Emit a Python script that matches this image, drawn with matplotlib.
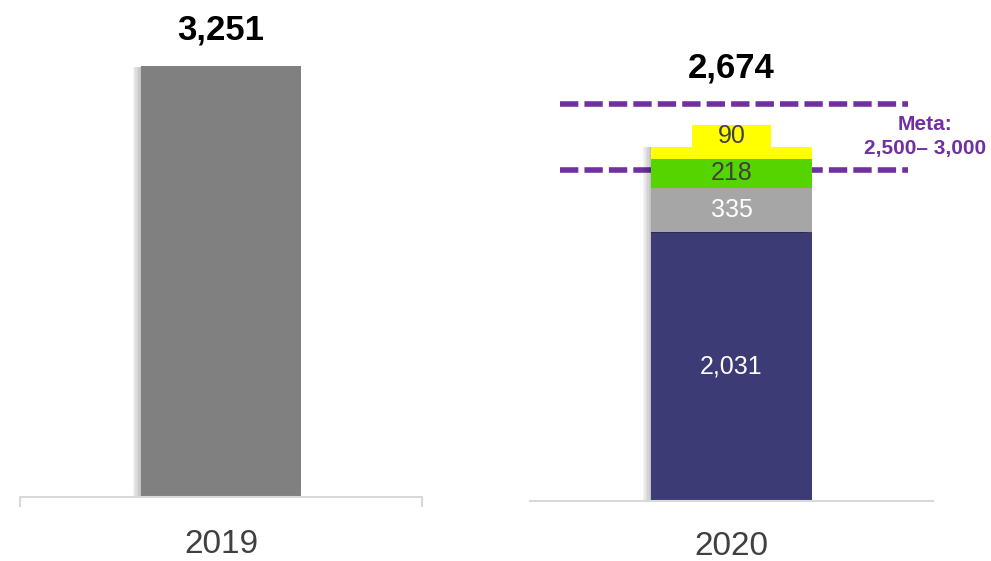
import matplotlib.pyplot as plt
import matplotlib.patheffects as pe
from matplotlib.patches import Rectangle

years = ["2019", "2020"]
total_2019 = 3251
seg_values = [2031, 335, 218, 90]
seg_colors = ["#3c3b75", "#a6a6a6", "#55d400", "#ffff00"]
seg_text_colors = ["white", "white", "#404040", "#404040"]
meta_low, meta_high = 2500, 3000
meta_label = "Meta:\n2,500\u2013 3,000"

W, H = 991, 561
SCALE = 0.1325  # px per unit, same for both panels
PURPLE = "#7030a0"
AXIS = "#d9d9d9"
ARIAL = ["Liberation Sans", "DejaVu Sans"]

fig = plt.figure(figsize=(W / 100, H / 100), dpi=100)


def make_axes(x0, x1, base):
    ax = fig.add_axes([x0 / W, (H - base) / H, (x1 - x0) / W, base / H])
    ax.set_xlim(-0.5, 0.5)
    ax.set_ylim(0, base / SCALE)
    for s in ["top", "left", "right"]:
        ax.spines[s].set_visible(False)
    ax.spines["bottom"].set_color(AXIS)
    ax.spines["bottom"].set_linewidth(1.5)
    ax.set_yticks([])
    ax.patch.set_alpha(0)
    return ax


# soft-ish drop shadow to the left, built from a few faint layers
shadow = [pe.SimplePatchShadow(offset=(-k, -0.5), shadow_rgbFace="#000000", alpha=0.045)
          for k in (1, 2, 3, 4, 5, 6)] + [pe.Normal()]

# 2019 panel
ax1 = make_axes(20, 422, 497)
ax1.set_xticks([-0.5, 0.5])
ax1.set_xticklabels(["", ""])
ax1.tick_params(axis="x", length=7, width=1.5, color=AXIS)
b = ax1.bar(0, total_2019, width=0.398, color="#808080")
for p in b:
    p.set_path_effects(shadow)
ax1.annotate(f"{total_2019:,}", xy=(0, total_2019), xytext=(0, 26), textcoords="offset points",
             ha="center", va="center", fontsize=25, fontweight="bold", family=ARIAL, color="black")
ax1.annotate(years[0], xy=(0, 0), xycoords=("data", "axes fraction"), xytext=(0, -34),
             textcoords="offset points", ha="center", va="center", fontsize=24,
             family=ARIAL, color="#404040")

# 2020 panel
ax2 = make_axes(530, 933, 501)
ax2.set_xticks([])
bottom = 0
for v, c, tc in zip(seg_values, seg_colors, seg_text_colors):
    bars = ax2.bar(0, v, bottom=bottom, width=0.398, color=c, zorder=2)
    for p in bars:
        p.set_path_effects(shadow)
    if v > 150:
        ax2.text(0, bottom + v / 2, f"{v:,}", ha="center", va="center", fontsize=18,
                 family=ARIAL, color=tc, zorder=3)
    bottom += v
total_2020 = bottom

# little label box on top for the smallest segment
box_w = 79 / 403
box_h = 22 / SCALE
ax2.add_patch(Rectangle((-box_w / 2, total_2020), box_w, box_h, color=seg_colors[-1], lw=0, zorder=2))
ax2.text(0, total_2020 + box_h / 2, f"{seg_values[-1]}", ha="center", va="center",
         fontsize=18, family=ARIAL, color=seg_text_colors[-1], zorder=3)

ax2.annotate(f"{total_2020:,}", xy=(0, total_2020), xytext=(0, 57), textcoords="offset points",
             ha="center", va="center", fontsize=25, fontweight="bold", family=ARIAL, color="black")
ax2.annotate(years[1], xy=(0, 0), xycoords=("data", "axes fraction"), xytext=(0, -33),
             textcoords="offset points", ha="center", va="center", fontsize=24,
             family=ARIAL, color="#404040")

for lvl in [meta_high, meta_low]:
    ax2.axhline(lvl, xmin=30 / 403, xmax=378 / 403, color=PURPLE, lw=4,
                dashes=(3.3, 1.1), zorder=1)

ax2.text(395 / 403, (meta_low + meta_high) / 2, meta_label, transform=ax2.get_yaxis_transform(),
         ha="center", va="center", fontsize=15, fontweight="bold", family=ARIAL,
         color=PURPLE, linespacing=1.3)

fig.savefig("out.png", dpi=100)
